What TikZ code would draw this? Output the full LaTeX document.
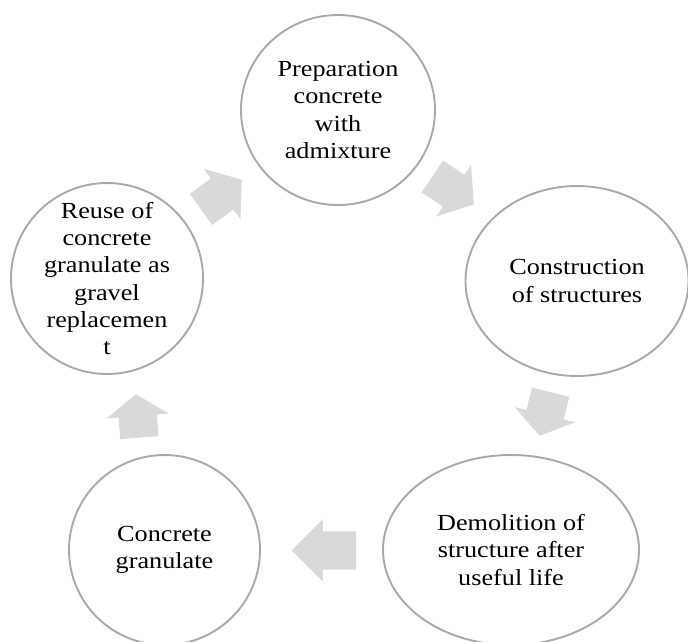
\documentclass[tikz,border=0pt]{standalone}
\usepackage{fontspec}
\setmainfont{Liberation Serif}
\usetikzlibrary{shapes.geometric, shapes.arrows}
\definecolor{ringgray}{HTML}{A9A9A9}
\definecolor{arrowgray}{HTML}{D9D9D9}
\tikzset{
	stage/.style={ellipse, draw=ringgray, line width=1.9pt, inner sep=0pt},
	stagetext/.style={align=center, font=\fontsize{23}{27.3}\selectfont, inner sep=0pt, xscale=1.14, transform shape},
	blockarrow/.style={single arrow, fill=arrowgray, draw=none, inner xsep=0pt, inner ysep=19pt, minimum width=62pt, single arrow head extend=12pt, single arrow tip angle=104, anchor=tail}
}

\begin{document}
\begin{tikzpicture}[x=1pt, y=-1pt]
	\useasboundingbox (0,0) rectangle (688,641);
	
% stages
	\node[stage, minimum width=194pt, minimum height=190pt, label={[stagetext, name=prep-txt]center:{Preparation\\concrete\\with\\admixture}}] (prep) at (338,110) {};
	\node[stage, minimum width=223pt, minimum height=190pt, label={[stagetext, name=cons-txt]center:{Construction\\of structures}}] (cons) at (577,281) {};
	\node[stage, minimum width=256pt, minimum height=190pt, label={[stagetext, name=demo-txt]center:{Demolition of\\structure after\\useful life}}] (demo) at (511,550) {};
	\node[stage, minimum width=191pt, minimum height=190pt, label={[stagetext, name=gran-txt]center:{Concrete\\granulate}}] (gran) at (164.5,550) {};
	\node[stage, minimum width=192pt, minimum height=191pt, label={[stagetext, name=reuse-txt]center:{Reuse of\\concrete\\granulate as\\gravel\\replacemen\\t}}] (reuse) at (107,278.5) {};
	
% arrows between stages (placed by their tail)
	\node[blockarrow, minimum height=50.5pt, rotate=36] (a51) at (200.8,209.5) {};
	\node[blockarrow, minimum height=50pt, rotate=-34] (a12) at (432.2,176.3) {};
	\node[blockarrow, minimum height=45pt, rotate=-104, single arrow tip angle=110] (a23) at (550.7,392) {};
	\node[blockarrow, minimum height=64.5pt, rotate=180, single arrow tip angle=90] (a34) at (356.3,550.5) {};
	\node[blockarrow, minimum height=43.5pt, rotate=94.5, single arrow tip angle=110] (a45) at (139.4,437.8) {};

\end{tikzpicture}
\end{document}
